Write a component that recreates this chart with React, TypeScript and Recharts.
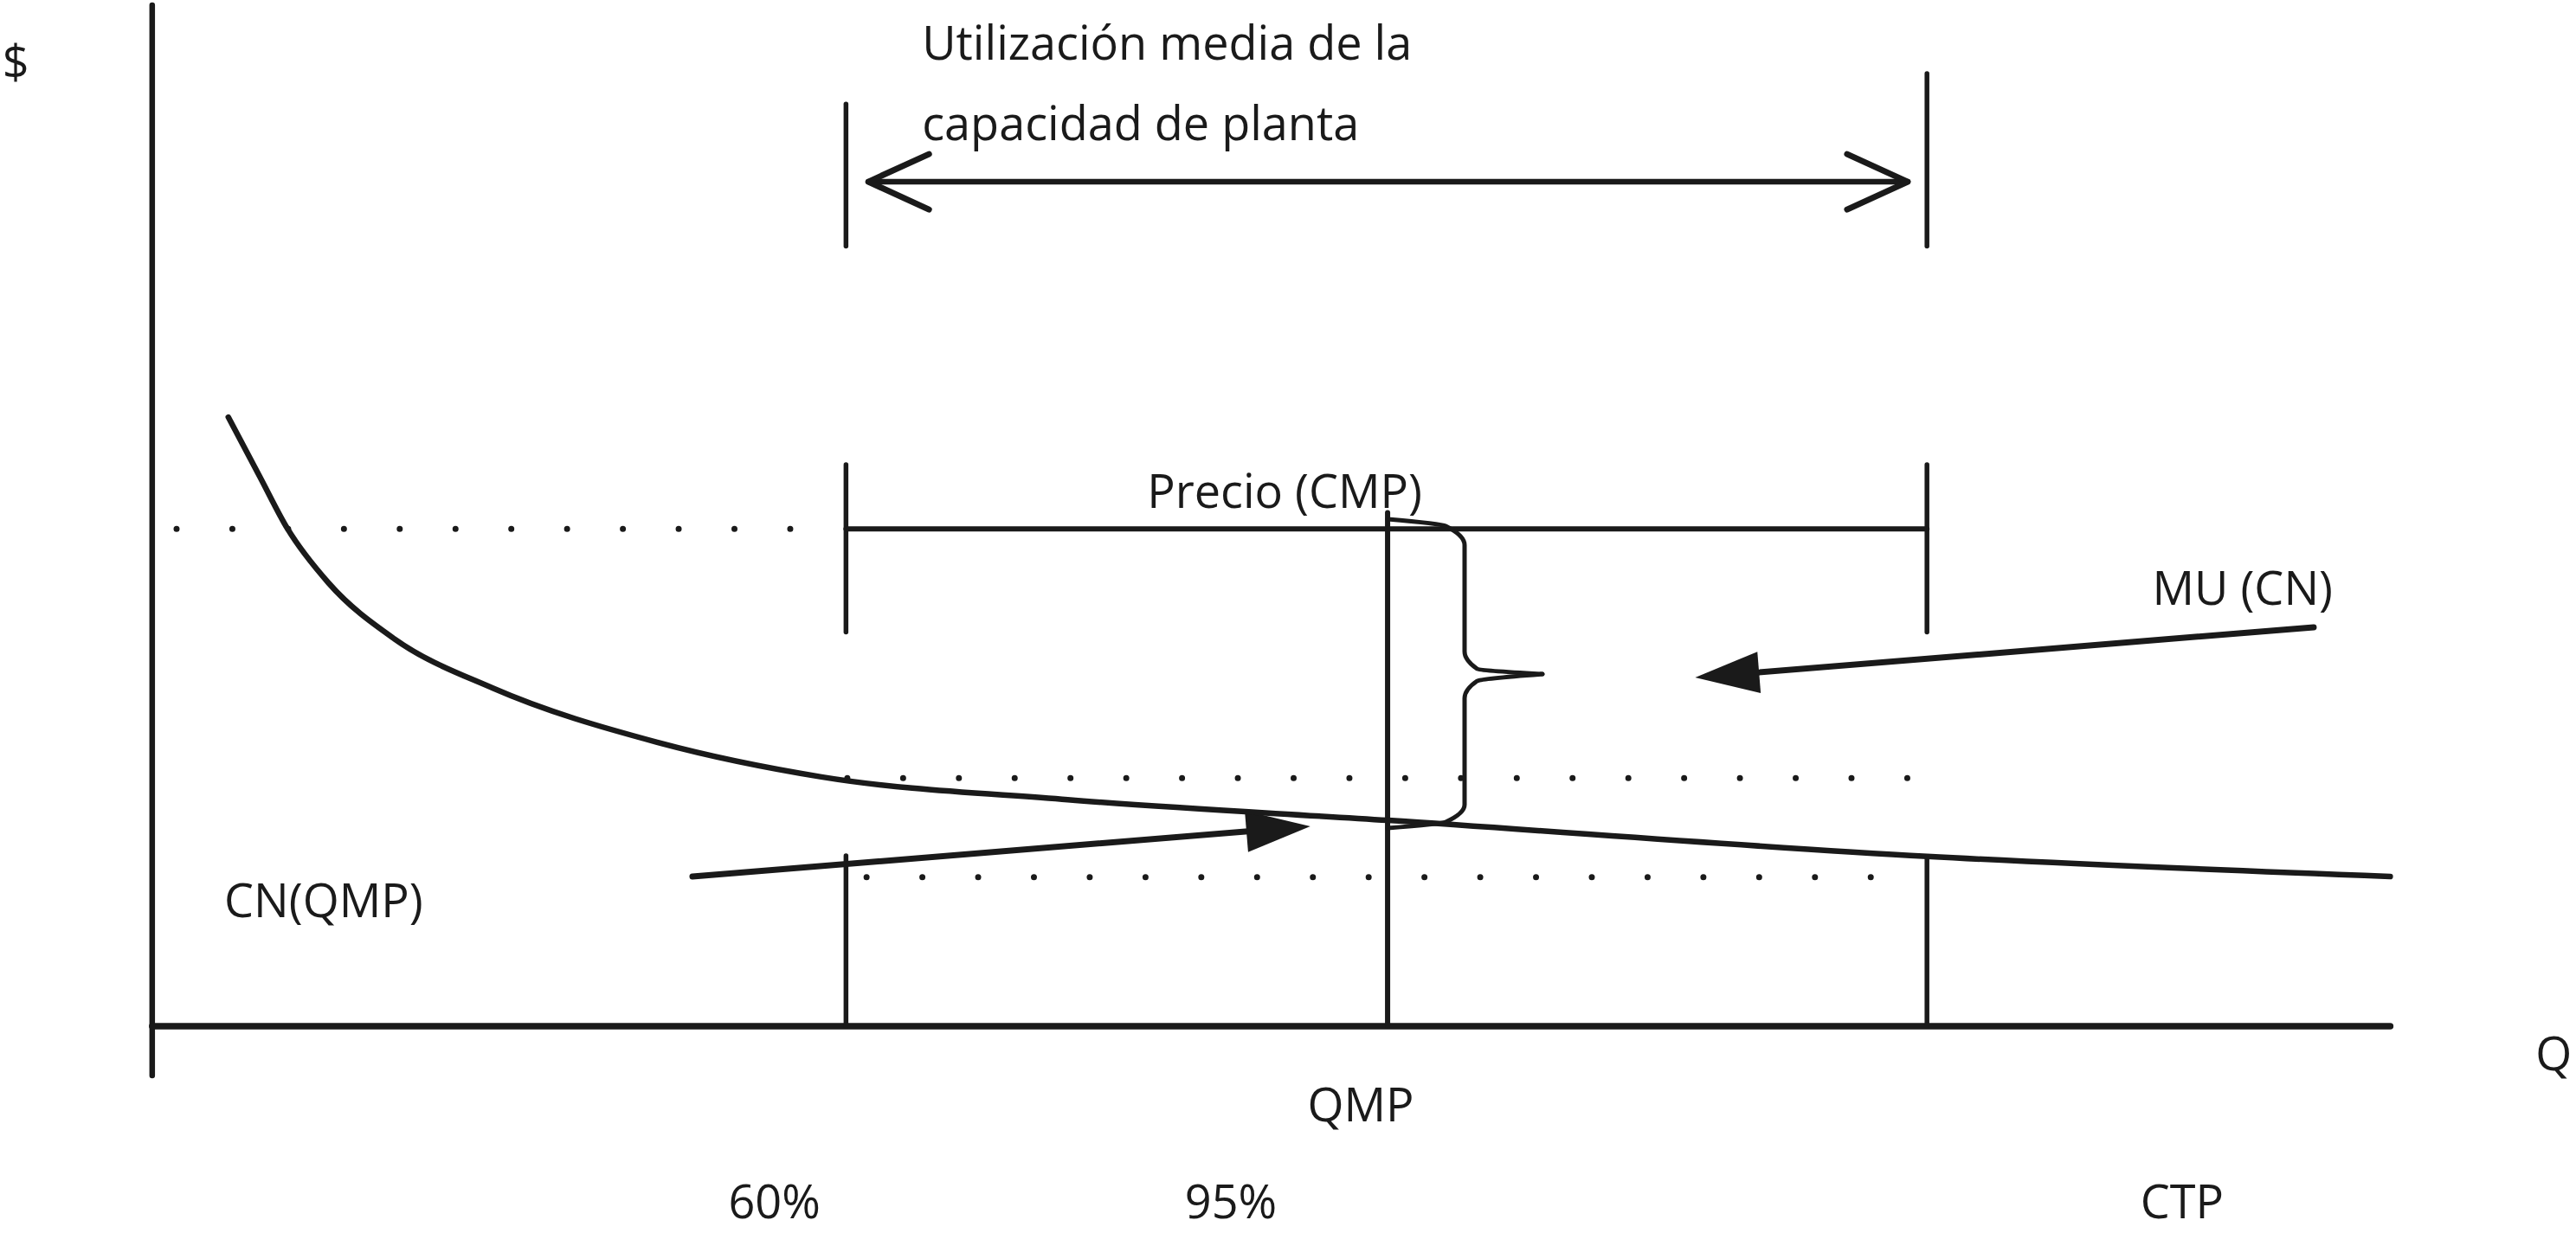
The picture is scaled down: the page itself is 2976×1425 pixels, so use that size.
import React from 'react'
import {
  ComposedChart,
  XAxis,
  YAxis,
  Line,
  ReferenceLine,
  ReferenceDot,
} from 'recharts'

const INK = '#1a1a1a'
const FONT = '"Open Sans", "Noto Sans", sans-serif'
const WIDTH = 2976
const HEIGHT = 1425

// window of the drawing in data units (Q across, $ up)
const Q_DOMAIN: [number, number] = [-6.8, 108.3]
const COST_DOMAIN: [number, number] = [-20.25, 100.5]

// CN, unit cost curve
const cnQ = [3.4, 4.8, 6.05, 7.88, 10.82, 15.22, 22.56, 29.9, 40.91, 55.23, 79.31, 100]
const cnCost = [59.65, 53.86, 48.71, 43.41, 37.94, 33.11, 27.81, 24.42, 22.18, 20.16, 16.63, 14.66]

// key quantities
const Q_60 = 31
const Q_MP = 55.2
const Q_CTP = 79.3
const Q_AXIS_END = 100
const COST_AXIS_TOP = 100

// key cost levels
const PRICE = 48.7
const CN_MID = 24.3
const CN_LOW = 14.6

// brace that marks MU between price and CN(QMP)
const braceTopQ = [55.2, 57.8, 58.64, 58.64, 59.2, 62.12]
const braceTopV = [49.66, 48.98, 47.12, 36.69, 35.0, 34.49]
const braceBottomQ = [62.12, 59.2, 58.64, 58.64, 57.8, 55.2]
const braceBottomV = [34.49, 33.81, 32.12, 21.69, 20.0, 19.41]

// arrows: tail and base of head
const muArrowQ = [96.58, 71.72]
const muArrowV = [39.07, 34.64]
const cnArrowQ = [24.14, 48.97]
const cnArrowV = [14.66, 19.09]

const notes = [
  { text: '$', q: -6.1, v: 94.4, align: 'center' },
  { text: 'Q', q: 107.3, v: -2.7, align: 'center' },
  { text: 'Utilización media de la', q: 34.4, v: 96.3, align: 'left' },
  { text: 'capacidad de planta', q: 34.4, v: 88.4, align: 'left' },
  { text: 'Precio (CMP)', q: 50.6, v: 52.4, align: 'center' },
  { text: 'MU (CN)', q: 93.4, v: 42.9, align: 'center' },
  { text: 'CN(QMP)', q: 7.66, v: 12.3, align: 'center' },
  { text: 'QMP', q: 54.0, v: -7.7, align: 'center' },
  { text: '60%', q: 27.8, v: -17.2, align: 'center' },
  { text: '95%', q: 48.2, v: -17.2, align: 'center' },
  { text: 'CTP', q: 90.7, v: -17.2, align: 'center' },
]

const toRows = (qs: number[], vs: number[]) => qs.map((q, i) => ({ q, v: vs[i] }))

const seg = (q1: number, v1: number, q2: number, v2: number) => [
  { x: q1, y: v1 },
  { x: q2, y: v2 },
]

export default function App() {
  const curve = toRows(cnQ, cnCost)
  const braceTop = toRows(braceTopQ, braceTopV)
  const braceBottom = toRows(braceBottomQ, braceBottomV)

  const solid = { stroke: INK, strokeLinecap: 'round' as const, ifOverflow: 'visible' as const }
  const dotted = {
    stroke: INK,
    strokeWidth: 7,
    strokeDasharray: '0 64.45',
    strokeLinecap: 'round' as const,
    ifOverflow: 'visible' as const,
  }

  return (
    <div style={{ position: 'absolute', left: 0, top: 0, background: '#fff' }}>
      <svg width={0} height={0} style={{ position: 'absolute' }}>
        <defs>
          <marker
            id="solidHead"
            markerUnits="userSpaceOnUse"
            markerWidth={80}
            markerHeight={56}
            refX={2}
            refY={26}
            orient="auto"
            overflow="visible"
          >
            <path d="M0,2 L74,26 L0,50 Z" fill={INK} />
          </marker>
          <marker
            id="openHead"
            markerUnits="userSpaceOnUse"
            markerWidth={90}
            markerHeight={80}
            refX={74}
            refY={36}
            orient="auto-start-reverse"
            overflow="visible"
          >
            <path
              d="M4,4 L74,36 L4,68"
              fill="none"
              stroke={INK}
              strokeWidth={7}
              strokeLinecap="round"
              strokeLinejoin="round"
            />
          </marker>
        </defs>
      </svg>
      <ComposedChart
        width={WIDTH}
        height={HEIGHT}
        data={curve}
        margin={{ top: 0, right: 0, bottom: 0, left: 0 }}
      >
        <XAxis type="number" dataKey="q" domain={Q_DOMAIN} allowDataOverflow hide />
        <YAxis type="number" domain={COST_DOMAIN} allowDataOverflow hide />

        {/* axes */}
        <ReferenceLine segment={seg(0, -4.83, 0, COST_AXIS_TOP)} strokeWidth={6.5} {...solid} />
        <ReferenceLine segment={seg(0, 0, Q_AXIS_END, 0)} strokeWidth={7.5} {...solid} />

        {/* utilisation band, top */}
        <ReferenceLine segment={seg(Q_60, 76.4, Q_60, 90.3)} strokeWidth={5.5} {...solid} />
        <ReferenceLine segment={seg(Q_CTP, 76.4, Q_CTP, 93.3)} strokeWidth={5.5} {...solid} />
        <ReferenceLine
          segment={seg(32.0, 82.7, 78.44, 82.7)}
          strokeWidth={6.5}
          markerStart="url(#openHead)"
          markerEnd="url(#openHead)"
          {...solid}
        />

        {/* price bracket */}
        <ReferenceLine segment={seg(Q_60, 38.6, Q_60, 55.0)} strokeWidth={5.5} {...solid} />
        <ReferenceLine segment={seg(Q_CTP, 38.6, Q_CTP, 55.0)} strokeWidth={5.5} {...solid} />
        <ReferenceLine segment={seg(Q_60, PRICE, Q_CTP, PRICE)} strokeWidth={6} {...solid} />

        {/* verticals down to the Q axis */}
        <ReferenceLine segment={seg(Q_60, 0, Q_60, 16.7)} strokeWidth={5.5} {...solid} />
        <ReferenceLine segment={seg(Q_CTP, 0, Q_CTP, 16.6)} strokeWidth={5.5} {...solid} />
        <ReferenceLine segment={seg(Q_MP, 0, Q_MP, 50.3)} strokeWidth={6} {...solid} />

        {/* dotted guides */}
        <ReferenceLine segment={seg(1.09, PRICE, 28.7, PRICE)} {...dotted} />
        <ReferenceLine segment={seg(31.06, CN_MID, 78.6, CN_MID)} {...dotted} />
        <ReferenceLine segment={seg(31.92, CN_LOW, 77.0, CN_LOW)} {...dotted} />

        {/* arrows */}
        <ReferenceLine
          segment={seg(muArrowQ[0], muArrowV[0], muArrowQ[1], muArrowV[1])}
          strokeWidth={7}
          markerEnd="url(#solidHead)"
          {...solid}
        />
        <ReferenceLine
          segment={seg(cnArrowQ[0], cnArrowV[0], cnArrowQ[1], cnArrowV[1])}
          strokeWidth={7}
          markerEnd="url(#solidHead)"
          {...solid}
        />

        {/* CN curve */}
        <Line
          data={curve}
          dataKey="v"
          type="monotone"
          stroke={INK}
          strokeWidth={6.5}
          strokeLinecap="round"
          dot={false}
          activeDot={false}
          isAnimationActive={false}
        />

        {/* brace */}
        <Line
          data={braceTop}
          dataKey="v"
          type="monotoneY"
          stroke={INK}
          strokeWidth={5}
          strokeLinecap="round"
          dot={false}
          activeDot={false}
          isAnimationActive={false}
        />
        <Line
          data={braceBottom}
          dataKey="v"
          type="monotoneY"
          stroke={INK}
          strokeWidth={5}
          strokeLinecap="round"
          dot={false}
          activeDot={false}
          isAnimationActive={false}
        />

        {notes.map((n) => (
          <ReferenceDot
            key={n.text}
            x={n.q}
            y={n.v}
            r={0}
            stroke="none"
            fill="none"
            ifOverflow="visible"
            label={{
              value: n.text,
              position: n.align === 'left' ? 'right' : 'center',
              offset: 0,
              fill: INK,
              fontSize: 54,
              fontFamily: FONT,
            }}
          />
        ))}
      </ComposedChart>
    </div>
  )
}
